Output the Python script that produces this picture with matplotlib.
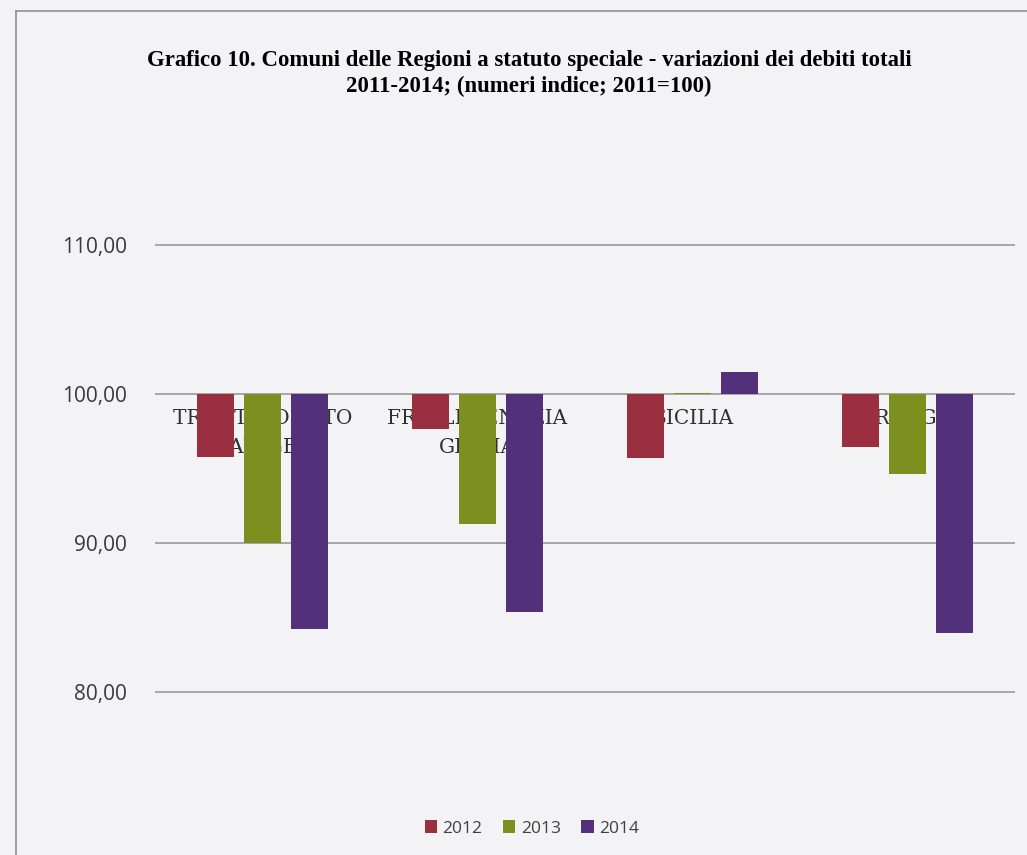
import numpy as np
import matplotlib.pyplot as plt
from matplotlib.patches import Patch
from matplotlib.lines import Line2D

# Data (numeri indice, 2011=100)
regions = ["TRENTINO ALTO\nADIGE", "FRIULI VENEZIA\nGIULIA", "SICILIA", "SARDEGNA"]
years = ["2012", "2013", "2014"]
v2012 = [95.74, 97.64, 95.69, 96.41]
v2013 = [89.99, 91.29, 100.09, 94.66]
v2014 = [84.22, 85.34, 101.50, 83.99]
yticks = [80, 90, 100, 110]

colors = ["#9a2f3f", "#7d8f1e", "#52307a"]
bg = "#f3f3f5"

fig = plt.figure(figsize=(10.27, 8.55), dpi=100, facecolor=bg)
ax = fig.add_axes([0.1509, 0.1558, 0.8374, 0.5925], facecolor="none")

x = np.arange(len(regions))
width = 0.172
offset = 0.22
for i, (vals, col) in enumerate(zip([v2012, v2013, v2014], colors)):
    h = np.array(vals) - 100
    ax.bar(x + (i - 1) * offset, h, width, bottom=100, color=col, zorder=3)

ax.set_xlim(-0.5, 3.5)
ax.set_ylim(78, 112)
ax.set_yticks(yticks)
ax.set_yticklabels([f"{t},00" for t in yticks], fontsize=15, color="#3a3a3a",
                   family="Open Sans")
ax.tick_params(axis="y", length=0, pad=20)
ax.set_xticks([])
for t in yticks:
    ax.axhline(t, color="#9a9a9a", lw=1.2, zorder=1)
for s in ax.spines.values():
    s.set_visible(False)

# category labels sit just under the 100 line, behind the bars
for i, r in enumerate(regions):
    ax.annotate(r, (x[i], 100), xytext=(0, -11), textcoords="offset points",
                ha="center", va="top", fontsize=14.5, color="#303030",
                family="DejaVu Serif", linespacing=1.65, zorder=2)

fig.text(0.515, 0.914, "Grafico 10. Comuni delle Regioni a statuto speciale - variazioni dei debiti totali\n"
         "2011-2014; (numeri indice; 2011=100)", ha="center", va="center",
         fontsize=16.4, fontweight="bold", family="Liberation Serif", linespacing=1.3)

handles = [Patch(facecolor=c, label=y) for c, y in zip(colors, years)]
fig.legend(handles=handles, loc="center", bbox_to_anchor=(0.518, 0.031), ncol=3,
           frameon=False, handlelength=0.7, handleheight=0.7, handletextpad=0.3,
           columnspacing=1.2, prop={"family": "Open Sans", "size": 12.5},
           labelcolor="#404040")

# chart border (left and top)
fig.add_artist(Line2D([0.0156, 0.0156], [0, 0.987], color="#909090", lw=1.2))
fig.add_artist(Line2D([0.0156, 1.0], [0.987, 0.987], color="#909090", lw=1.2))

fig.savefig("out.png", dpi=100, facecolor=bg)
